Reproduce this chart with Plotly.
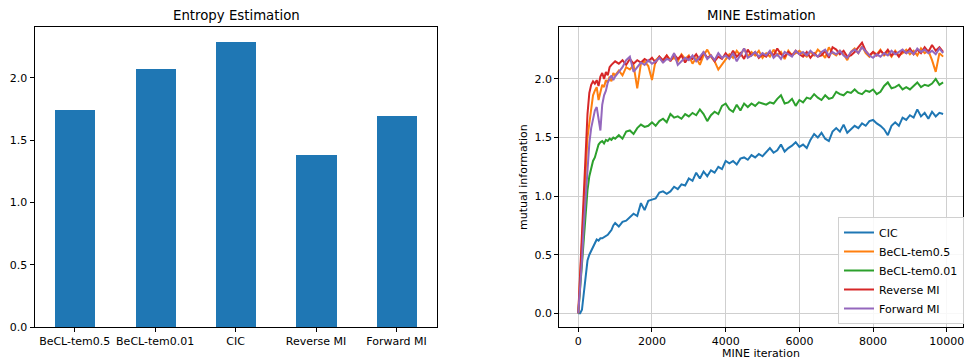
import plotly.graph_objects as go

# ---------------- data ----------------
bar_categories = ["BeCL-tem0.5", "BeCL-tem0.01", "CIC", "Reverse MI", "Forward MI"]
bar_values = [1.74, 2.07, 2.29, 1.38, 1.69]

iter_early = [0, 50, 100, 150, 200, 250, 300, 350, 400, 450, 500, 550, 600, 650, 700,
              750, 800, 850, 900, 950, 1000]
iter_late = list(range(1100, 10000, 100))
iterations = iter_early + iter_late

cic = [0.0, 0.0, 0.03, 0.18, 0.36, 0.45, 0.5, 0.53, 0.57, 0.6, 0.63, 0.62, 0.64, 0.64, 0.65,
       0.66, 0.67, 0.69, 0.71, 0.75, 0.77,
       0.74, 0.78, 0.79, 0.82, 0.85, 0.83, 0.94, 0.88, 0.96, 0.97,
       0.98, 1.03, 1.04, 1.02, 1.04, 1.08, 1.06, 1.1, 1.09, 1.15,
       1.13, 1.2, 1.15, 1.21, 1.17, 1.22, 1.2, 1.25, 1.23, 1.3,
       1.28, 1.3, 1.27, 1.32, 1.33, 1.31, 1.35, 1.33, 1.36, 1.34,
       1.38, 1.41, 1.37, 1.39, 1.44, 1.38, 1.41, 1.43, 1.46, 1.42,
       1.44, 1.41, 1.48, 1.53, 1.5, 1.54, 1.49, 1.47, 1.55, 1.58,
       1.55, 1.61, 1.54, 1.57, 1.6, 1.58, 1.62, 1.6, 1.64, 1.65,
       1.62, 1.6, 1.57, 1.52, 1.6, 1.63, 1.6, 1.67, 1.65, 1.69,
       1.67, 1.74, 1.68, 1.71, 1.66, 1.72, 1.68, 1.71, 1.7]

becl_05 = [0.0, 0.3, 0.6, 0.95, 1.25, 1.5, 1.62, 1.75, 1.86, 1.9, 1.93, 1.82, 1.88, 1.95, 1.93,
           1.99, 1.97, 2.02, 1.98, 2.05, 2.03,
           2.07, 2.03, 2.1, 2.08, 2.12, 1.92, 2.13, 2.15, 2.11, 1.99,
           2.16, 2.19, 2.14, 2.2, 2.16, 2.18, 2.15, 2.21, 2.17, 2.2,
           2.13, 2.18, 2.12, 2.2, 2.25, 2.19, 2.15, 2.08, 2.12, 2.17,
           2.21, 2.18, 2.24, 2.2, 2.26, 2.19, 2.23, 2.2, 2.24, 2.18,
           2.22, 2.19, 2.25, 2.2, 2.23, 2.17, 2.24, 2.2, 2.22, 2.24,
           2.21, 2.19, 2.23, 2.2, 2.25, 2.22, 2.18, 2.27, 2.22, 2.2,
           2.24, 2.21, 2.16, 2.23, 2.26, 2.22, 2.28, 2.22, 2.19, 2.23,
           2.21, 2.25, 2.2, 2.23, 2.19, 2.24, 2.2, 2.22, 2.25, 2.21,
           2.24, 2.2, 2.26, 2.22, 2.24, 2.16, 2.06, 2.22, 2.19]

becl_001 = [0.0, 0.2, 0.42, 0.65, 0.88, 1.05, 1.17, 1.25, 1.3, 1.33, 1.38, 1.44, 1.46, 1.47, 1.45,
            1.48, 1.47, 1.49, 1.48, 1.5, 1.49,
            1.52, 1.49, 1.55, 1.56, 1.53, 1.58, 1.61, 1.59, 1.6, 1.63,
            1.6, 1.64, 1.66, 1.63, 1.7, 1.67, 1.68, 1.66, 1.7, 1.68,
            1.71, 1.69, 1.74, 1.7, 1.64, 1.69, 1.72, 1.7, 1.77, 1.79,
            1.74, 1.72, 1.78, 1.73, 1.79, 1.76, 1.79, 1.77, 1.8, 1.79,
            1.78, 1.8, 1.79, 1.83, 1.86, 1.79, 1.8, 1.83, 1.77, 1.82,
            1.8, 1.84, 1.83, 1.87, 1.84, 1.82, 1.86, 1.83, 1.84, 1.89,
            1.87, 1.86, 1.89, 1.88, 1.91, 1.88, 1.87, 1.9, 1.89, 1.91,
            1.87, 1.89, 1.94, 1.97, 1.92, 1.93, 1.95, 1.91, 1.93, 1.91,
            1.94, 1.97, 1.93, 1.95, 1.94, 1.96, 2.0, 1.95, 1.97]

reverse_mi = [0.0, 0.35, 0.72, 1.1, 1.42, 1.7, 1.88, 1.95, 1.98, 1.96, 1.99, 1.94, 2.02, 2.05, 2.0,
              2.06, 2.03, 2.1, 2.12, 2.14, 2.15,
              2.13, 2.16, 2.12, 2.17, 2.13, 2.16, 2.14, 2.17, 2.15, 2.18,
              2.14, 2.19, 2.16, 2.2, 2.15, 2.21, 2.17, 2.2, 2.14, 2.19,
              2.17, 2.21, 2.16, 2.23, 2.18, 2.2, 2.15, 2.19, 2.17, 2.22,
              2.18, 2.24, 2.19, 2.22, 2.17, 2.25, 2.2, 2.23, 2.18, 2.21,
              2.19, 2.23, 2.2, 2.26, 2.21, 2.19, 2.23, 2.2, 2.24, 2.21,
              2.19, 2.23, 2.18, 2.22, 2.19, 2.2, 2.24, 2.18, 2.27, 2.25,
              2.21, 2.24, 2.19, 2.2, 2.23, 2.27, 2.31, 2.24, 2.2, 2.23,
              2.2, 2.24, 2.21, 2.25, 2.2, 2.23, 2.19, 2.24, 2.22, 2.26,
              2.21, 2.25, 2.22, 2.27, 2.23, 2.29, 2.24, 2.27, 2.23]

forward_mi = [0.0, 0.2, 0.45, 0.75, 1.0, 1.25, 1.45, 1.58, 1.66, 1.73, 1.76, 1.66, 1.56, 1.78, 1.86,
              1.9, 1.97, 2.0, 2.03, 1.99, 2.02,
              2.06, 2.1, 2.16, 2.19, 2.06, 2.1, 2.14, 2.12, 2.16, 2.13,
              2.15, 2.18, 2.14, 2.17, 2.16, 2.22, 2.12, 2.15, 2.18, 2.16,
              2.2, 2.15, 2.19, 2.23, 2.17, 2.2, 2.16, 2.22, 2.18, 2.2,
              2.17, 2.22, 2.15, 2.21, 2.26, 2.18, 2.2, 2.23, 2.19, 2.22,
              2.2, 2.24, 2.18, 2.21, 2.17, 2.23, 2.21, 2.19, 2.24, 2.21,
              2.23, 2.2, 2.24, 2.21, 2.19, 2.23, 2.25, 2.2, 2.23, 2.21,
              2.24, 2.2, 2.18, 2.23, 2.25, 2.22, 2.27, 2.23, 2.2, 2.18,
              2.21, 2.19, 2.22, 2.2, 2.24, 2.21, 2.23, 2.25, 2.22, 2.24,
              2.21, 2.26, 2.23, 2.25, 2.22, 2.24, 2.21, 2.26, 2.22]

line_series = [
    ("CIC", cic, "#1f77b4"),
    ("BeCL-tem0.5", becl_05, "#ff7f0e"),
    ("BeCL-tem0.01", becl_001, "#2ca02c"),
    ("Reverse MI", reverse_mi, "#d62728"),
    ("Forward MI", forward_mi, "#9467bd"),
]

left_yticks = [0.0, 0.5, 1.0, 1.5, 2.0]
right_yticks = [0.0, 0.5, 1.0, 1.5, 2.0]
right_xticks = [0, 2000, 4000, 6000, 8000, 10000]

# ---------------- figure ----------------
W, H = 964, 360
FONT = "DejaVu Sans"
fig = go.Figure()

fig.add_trace(go.Bar(x=bar_categories, y=bar_values, marker_color="#1f77b4",
                     marker_line_width=0, width=0.5, showlegend=False,
                     xaxis="x", yaxis="y"))

for name, vals, color in line_series:
    fig.add_trace(go.Scatter(x=iterations, y=vals, mode="lines", name=name,
                             line=dict(color=color, width=2),
                             xaxis="x2", yaxis="y2"))

def px_x(p):
    return p / W

def px_y(p):
    return 1 - p / H

ydom = [px_y(327), px_y(27)]
axis_common = dict(showline=True, linecolor="black", linewidth=1, mirror=True,
                   ticks="outside", ticklen=4, tickcolor="black", tickwidth=1,
                   tickfont=dict(family=FONT, size=11, color="black"),
                   zeroline=False, automargin=False, ticklabeloverflow="allow")

fig.update_layout(
    width=W, height=H,
    margin=dict(l=0, r=0, t=0, b=0, autoexpand=False),
    plot_bgcolor="white", paper_bgcolor="white",
    font=dict(family=FONT, size=11, color="black"),
    bargap=0,
    xaxis=dict(domain=[px_x(34.5), px_x(436.7)], type="category", range=[-0.5, 4.5],
               showgrid=False, anchor="y", **axis_common),
    yaxis=dict(domain=ydom, range=[0, 2.408], tickvals=left_yticks,
               ticktext=[f"{v:.1f}" for v in left_yticks], showgrid=False,
               anchor="x", **axis_common),
    xaxis2=dict(domain=[px_x(559.3), px_x(962.7)], range=[-515, 10432],
                tickvals=right_xticks, ticktext=[str(v) for v in right_xticks],
                showgrid=True, gridcolor="#cfcfcf", gridwidth=1, anchor="y2",
                **axis_common),
    yaxis2=dict(domain=ydom, range=[-0.117, 2.443], tickvals=right_yticks,
                ticktext=[f"{v:.1f}" for v in right_yticks],
                showgrid=True, gridcolor="#cfcfcf", gridwidth=1, anchor="x2",
                **axis_common),
    legend=dict(x=px_x(964), xanchor="right", y=px_y(324), yanchor="bottom",
                bgcolor="rgba(255,255,255,0.85)", bordercolor="#d0d0d0", borderwidth=1,
                font=dict(family=FONT, size=11, color="black"),
                tracegroupgap=0, itemwidth=30),
    annotations=[
        dict(text="Entropy Estimation", x=px_x(236), y=px_y(16), xref="paper", yref="paper",
             showarrow=False, font=dict(family=FONT, size=13.3, color="black"),
             xanchor="center", yanchor="middle"),
        dict(text="MINE Estimation", x=px_x(761), y=px_y(16), xref="paper", yref="paper",
             showarrow=False, font=dict(family=FONT, size=13.3, color="black"),
             xanchor="center", yanchor="middle"),
        dict(text="MINE iteration", x=px_x(761), y=px_y(353), xref="paper", yref="paper",
             showarrow=False, font=dict(family=FONT, size=11, color="black"),
             xanchor="center", yanchor="middle"),
        dict(text="mutual information", x=px_x(523), y=px_y(177), xref="paper", yref="paper",
             showarrow=False, textangle=-90, font=dict(family=FONT, size=11, color="black"),
             xanchor="center", yanchor="middle"),
    ],
)

fig.write_html("out.html", config={"displayModeBar": False},
               post_script="document.body.style.margin='0px';document.body.style.overflow='hidden';")
